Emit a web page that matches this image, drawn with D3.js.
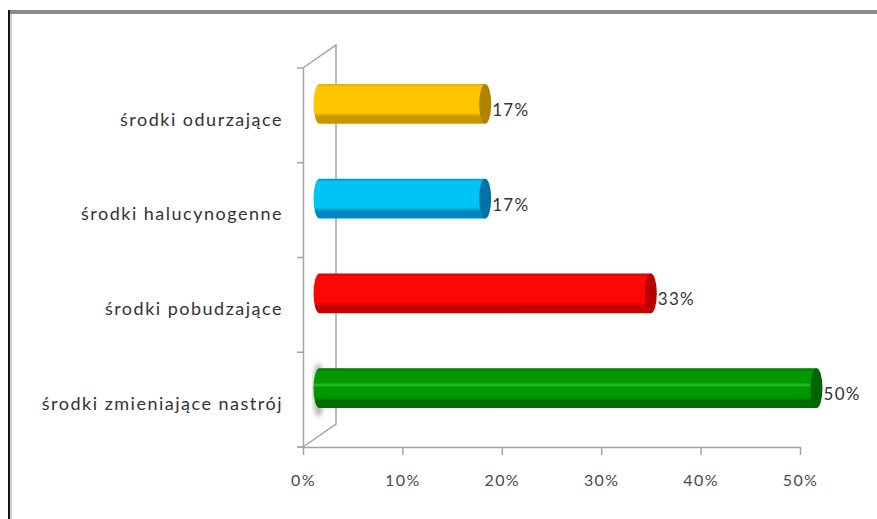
<!DOCTYPE html>
<meta charset="utf-8">
<style>
body { margin: 0; background: #fff; }
svg { display: block; }
.cat-label { font-family: Lato, 'Open Sans', sans-serif; font-size: 18px; fill: #333; letter-spacing: 1.5px; text-anchor: end; }
.val-label { font-family: Lato, 'Open Sans', sans-serif; font-size: 17px; fill: #333; letter-spacing: 1.3px; }
.axis text { font-family: Lato, 'Open Sans', sans-serif; font-size: 16px; fill: #4a4a4a; letter-spacing: 1.4px; }
.axis .domain, .axis line, .wall { stroke: #a3a3a3; stroke-width: 1.5px; fill: none; }
</style>
<svg width="877" height="519"></svg>
<script src="https://cdn.jsdelivr.net/npm/d3@7"></script>
<script>
// data, top to bottom
var categories = ["środki odurzające", "środki halucynogenne", "środki pobudzające", "środki zmieniające nastrój"];
var values = [0.1667, 0.1667, 0.3333, 0.5];
var valueLabels = ["17%", "17%", "33%", "50%"];
var xTicks = [0, 0.1, 0.2, 0.3, 0.4, 0.5];
var barColors = [
  {top: "#e2a900", body: "#ffc600", low: "#c99800", cap: "#b08400"},
  {top: "#0098d0", body: "#00c4f5", low: "#0086bf", cap: "#0072a6"},
  {top: "#d00000", body: "#ff0606", low: "#c80000", cap: "#b80000"},
  {top: "#006e00", body: "#009800", low: "#006a00", cap: "#006400", shine: "#2cc02c"}
];

var svg = d3.select("svg");

// frame
svg.append("rect").attr("x", 8).attr("y", 10).attr("width", 869).attr("height", 4).attr("fill", "#8c8c8c");
svg.append("rect").attr("x", 8).attr("y", 10).attr("width", 2).attr("height", 509).attr("fill", "#151515");
svg.append("rect").attr("x", 10).attr("y", 14).attr("width", 2).attr("height", 505).attr("fill", "#cfcfcf");

// 3d depth offset
var depth = {dx: 33, dy: -23};

var x = d3.scaleLinear().domain([0, 0.5]).range([303, 800]);
var y = d3.scaleBand().domain(categories).range([68, 447]);

var defs = svg.append("defs");
defs.append("filter").attr("id", "blur").append("feGaussianBlur").attr("stdDeviation", 2.5);

barColors.forEach(function(c, i) {
  var gr = defs.append("linearGradient").attr("id", "grad" + i)
      .attr("x1", 0).attr("y1", 0).attr("x2", 0).attr("y2", 1);
  var stops = c.shine ?
    [[0, c.top], [0.08, c.body], [0.36, c.body], [0.42, c.shine], [0.48, c.body], [0.72, c.body], [0.82, c.low], [1, c.low]] :
    [[0, c.top], [0.08, c.body], [0.72, c.body], [0.82, c.low], [1, c.low]];
  stops.forEach(function(s) { gr.append("stop").attr("offset", s[0]).attr("stop-color", s[1]); });
});

// back wall
var x0 = x(0), yTop = y.range()[0], yBot = y.range()[1];
svg.append("path").attr("class", "wall")
    .attr("d", "M" + x0 + "," + yTop + "L" + (x0 + depth.dx) + "," + (yTop + depth.dy) +
               "L" + (x0 + depth.dx) + "," + (yBot + depth.dy) + "L" + x0 + "," + yBot);

// axes
svg.append("g").attr("class", "axis")
    .attr("transform", "translate(0," + yBot + ")")
    .call(d3.axisBottom(x).tickValues(xTicks).tickFormat(d3.format(".0%")).tickSizeInner(8).tickSizeOuter(0).tickPadding(20))
  .call(function(g) {
    g.append("line").attr("x1", x0 - 6).attr("x2", x0);
  });

svg.append("g").attr("class", "axis")
    .attr("transform", "translate(" + x0 + ",0)")
    .call(d3.axisLeft(y).tickSize(0).tickFormat(""))
  .call(function(g) {
    g.selectAll(".bound").data(d3.range(categories.length + 1)).enter().append("line")
      .attr("x1", -6).attr("x2", 0)
      .attr("y1", function(i) { return yTop + i * y.step(); })
      .attr("y2", function(i) { return yTop + i * y.step(); });
  });

// bars (cylinders)
var barH = y.bandwidth() * 0.42, rx = 6;
var bars = svg.append("g").selectAll("g").data(categories).enter().append("g")
    .attr("transform", function(d) {
      return "translate(" + (depth.dx / 2) + "," + (y(d) + y.bandwidth() / 2 + depth.dy / 2) + ")";
    });

bars.filter(function(d, i) { return i === categories.length - 1; })
  .append("ellipse")
    .attr("cx", x0 - 1).attr("cy", 2).attr("rx", 5).attr("ry", barH / 2 + 7)
    .attr("fill", "#9a9a9a").attr("opacity", 0.8).attr("filter", "url(#blur)");

bars.append("path")
    .attr("fill", function(d, i) { return "url(#grad" + i + ")"; })
    .attr("d", function(d, i) {
      var x1 = x0, x2 = x(values[i]), h = barH / 2;
      return "M" + x2 + "," + (-h) + "L" + x1 + "," + (-h) +
             "A" + rx + "," + h + " 0 0 0 " + x1 + "," + h +
             "L" + x2 + "," + h + "Z";
    });

bars.append("ellipse")
    .attr("cx", function(d, i) { return x(values[i]); })
    .attr("cy", 0).attr("rx", rx).attr("ry", barH / 2)
    .attr("fill", function(d, i) { return barColors[i].cap; });

bars.append("text").attr("class", "val-label")
    .attr("x", function(d, i) { return x(values[i]) + rx + 1; })
    .attr("y", 6).attr("dy", "0.35em")
    .text(function(d, i) { return valueLabels[i]; });

// category labels
svg.append("g").selectAll("text").data(categories).enter().append("text")
    .attr("class", "cat-label")
    .attr("x", 283)
    .attr("y", function(d) { return y(d) + y.bandwidth() / 2 + 4; })
    .attr("dy", "0.35em")
    .text(function(d) { return d; });
</script>
